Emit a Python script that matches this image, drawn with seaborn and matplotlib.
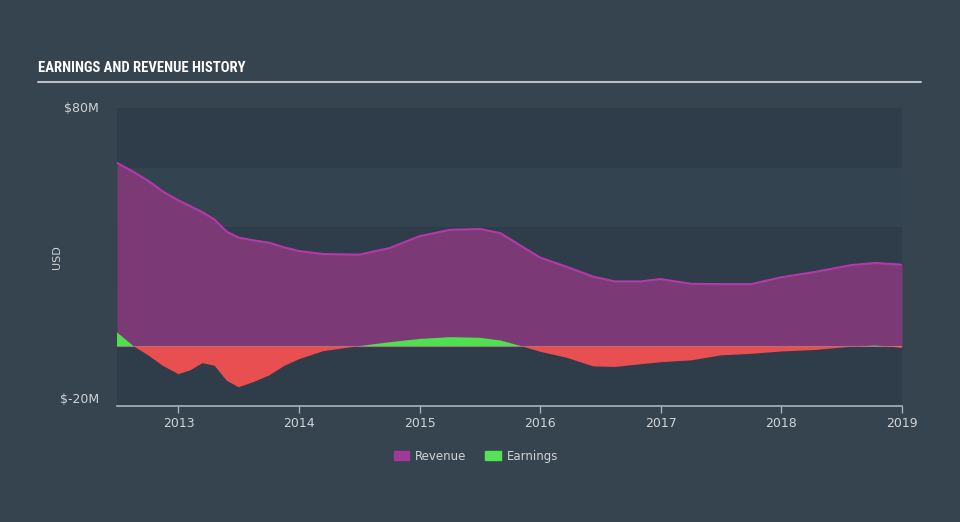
import numpy as np
import pandas as pd
import matplotlib
matplotlib.use("Agg")
import matplotlib.pyplot as plt
import seaborn as sns
from matplotlib.patches import Patch

# ---- data (USD millions) ----
years = [2012.49, 2012.63, 2012.75, 2012.87, 2013.0, 2013.1, 2013.2, 2013.3, 2013.4, 2013.5,
         2013.62, 2013.75, 2013.88, 2014.0, 2014.2, 2014.5, 2014.75, 2015.0, 2015.25, 2015.5,
         2015.67, 2015.85, 2016.0, 2016.22, 2016.44, 2016.62, 2016.83, 2017.0, 2017.25, 2017.5,
         2017.75, 2018.0, 2018.28, 2018.58, 2018.78, 2019.0]
revenue = [61.6, 58.5, 55.5, 52.0, 49.0, 47.0, 45.0, 42.5, 38.5, 36.5,
           35.6, 34.8, 33.2, 32.0, 31.0, 30.8, 33.0, 37.0, 39.1, 39.4,
           38.0, 33.5, 29.8, 26.7, 23.4, 21.8, 21.8, 22.6, 21.0, 20.9,
           20.9, 23.2, 25.0, 27.3, 28.0, 27.4]
earnings = [4.7, 0.0, -3.0, -6.5, -9.3, -8.0, -5.6, -6.5, -11.5, -13.7,
            -12.0, -9.8, -6.5, -4.3, -1.6, 0.1, 1.4, 2.5, 3.1, 2.9,
            2.0, 0.0, -1.8, -3.8, -6.7, -6.9, -6.0, -5.3, -4.7, -3.0,
            -2.5, -1.7, -1.2, -0.1, 0.3, -0.5]
y_ticks = [-20, 80]
y_tick_labels = ["$-20M", "$80M"]
x_ticks = [2013, 2014, 2015, 2016, 2017, 2018, 2019]
series_names = ["Revenue", "Earnings"]

df = pd.DataFrame({"year": years, "Revenue": revenue, "Earnings": earnings})

BG = "#36444f"
DARK = "#2f3c4a"
LIGHT = "#344350"
REV_FILL = "#7b3a76"
REV_LINE = "#b23aa8"
POS = "#4fe04f"
NEG = "#e84f50"
TXT = "#d0d4d8"

sns.set_theme(style="dark")
plt.rcParams['font.family'] = ['DejaVu Sans']

fig = plt.figure(figsize=(9.6, 5.22), dpi=100, facecolor=BG)
ax = fig.add_axes([117/960, 1-406/522, (902-117)/960, (406-108)/522])
ax.set_facecolor(DARK)

# bands
for lo, hi, c in [(60, 80, DARK), (40, 60, LIGHT), (20, 40, DARK), (0, 20, LIGHT), (-20, 0, DARK)]:
    ax.axhspan(lo, hi, color=c, lw=0, zorder=0)

x = np.array(years)
r = np.array(revenue)
e = np.array(earnings)

ax.fill_between(x, 0, r, color=REV_FILL, lw=0, zorder=2)
sns.lineplot(data=df, x="year", y="Revenue", ax=ax, color=REV_LINE, lw=1.5, zorder=3)
ax.fill_between(x, 0, e, where=e >= 0, interpolate=True, color=POS, lw=0, zorder=4)
ax.fill_between(x, 0, e, where=e <= 0, interpolate=True, color=NEG, lw=0, zorder=4)
ax.axhline(0, color="#c8808a", lw=0.8, alpha=0.6, zorder=5)

ax.set_xlim(min(years), 2019.0)
ax.set_ylim(-20, 80)
ax.set_xticks(x_ticks)
ax.set_xticklabels([str(t) for t in x_ticks], color=TXT, fontsize=9)
ax.set_yticks(y_ticks)
ax.set_yticklabels(y_tick_labels, color=TXT, fontsize=9)
ax.tick_params(axis="x", length=5, width=1, color="#a9b3bd", pad=3, bottom=True)
ax.tick_params(axis="y", length=0, pad=13)
for lab in ax.get_yticklabels():
    lab.set_verticalalignment("bottom" if lab.get_text() == "$-20M" else "center")
for s in ["top", "right", "left"]:
    ax.spines[s].set_visible(False)
ax.spines["bottom"].set_color("#a9b3bd")
ax.spines["bottom"].set_linewidth(1.2)
ax.set_xlabel("")
ax.set_ylabel("USD", color=TXT, fontsize=8)
ax.yaxis.set_label_coords((62-117)/785, 0.5)
ax.grid(False)

# title
fig.text(38/960, 1-68/522, "EARNINGS AND REVENUE HISTORY", color="white",
         fontsize=10.5, fontweight="bold", family=['Roboto Condensed', 'Roboto', 'DejaVu Sans'],
         va="center", ha="left")
fig.add_artist(plt.Line2D([38/960, 921/960], [1-81.5/522, 1-81.5/522],
                          color="#b8bec4", lw=1.5))

# legend
handles = [Patch(color="#a0399a", label=series_names[0]), Patch(color="#56e256", label=series_names[1])]
leg = fig.legend(handles=handles, loc="center", bbox_to_anchor=(476/960, 1-456/522), ncol=2,
                 frameon=False, fontsize=8.5, handlelength=1.3, handleheight=0.9,
                 columnspacing=1.6, handletextpad=0.5)
for t in leg.get_texts():
    t.set_color(TXT)

fig.savefig("out.png", dpi=100, facecolor=BG)
